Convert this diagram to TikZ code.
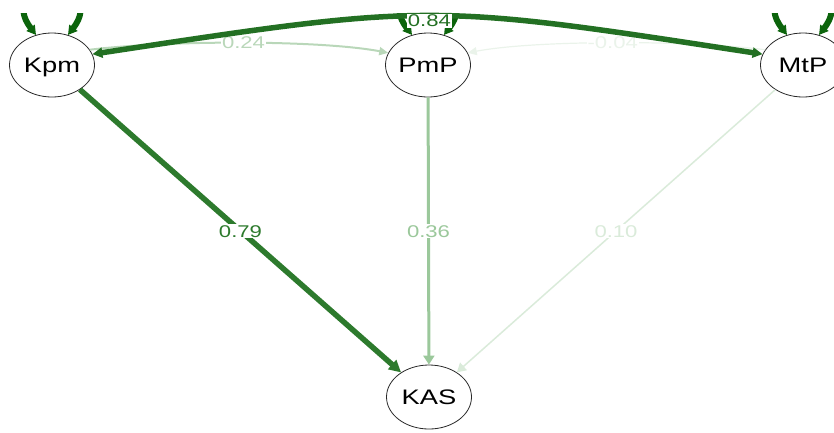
\documentclass[tikz,border=0pt]{standalone}
\usepackage{fontspec}
\usepackage{graphicx}
\setmainfont{Liberation Sans}
\usetikzlibrary{arrows.meta,shapes.geometric}

\definecolor{nodeline}{RGB}{40,40,40}
\definecolor{varloop}{RGB}{12,100,12}
\definecolor{c84}{RGB}{35,112,35}
\definecolor{c79}{RGB}{45,122,45}
\definecolor{c36}{RGB}{155,200,155}
\definecolor{c24}{RGB}{185,215,185}
\definecolor{c10}{RGB}{218,235,218}
\definecolor{c04}{RGB}{234,243,234}

\newcommand{\stretchtxt}[1]{\scalebox{1.3}[1]{#1}}

\begin{document}
\begin{tikzpicture}[x=1pt,y=-1pt,
  var/.style={ellipse, draw=nodeline, line width=0.8pt, fill=white,
    minimum width=85pt, minimum height=64pt, inner sep=0pt,
    text height=15pt, text depth=0pt, font=\fontsize{21}{21}\selectfont},
  lbl/.style={fill=white, inner sep=1pt, text height=12pt, text depth=0pt,
    font=\fontsize{17}{17}\selectfont}
]
\useasboundingbox (0,0) rectangle (834,432);

% observed variables
\node[var] (Kpm) at (52,65) {\stretchtxt{Kpm}};
\node[var] (PmP) at (428,65) {\stretchtxt{PmP}};
\node[var] (MtP) at (803,65) {\stretchtxt{MtP}};
\node[var] (KAS) at (429,397) {\stretchtxt{KAS}};

% variances (loops, cut off by the plot region)
\begin{scope}
  \clip (0,13) rectangle (834,432);
  \foreach \v in {Kpm,PmP,MtP}{
    \draw[varloop, line width=6pt,
      {Triangle[length=9pt,width=10pt]}-{Triangle[length=9pt,width=10pt]}]
      (\v.118) .. controls +(-42,-55) and +(42,-55) .. (\v.62);
  }
\end{scope}

% covariances among the predictors
\draw[c04, line width=1.2pt, {Triangle[length=9pt,width=8pt]}-]
  (PmP.17) .. controls (535,40) and (688,40) .. (MtP.158)
  node[pos=.5, lbl, text=c04] {\stretchtxt{-0.04}};
\draw[c24, line width=2pt, -{Triangle[length=9pt,width=8pt]}]
  (Kpm.22) .. controls (170,40) and (320,40) .. (PmP.163)
  node[pos=.5, lbl, text=c24] {\stretchtxt{0.24}};
\draw[c84, line width=5.5pt, {Triangle[length=10pt,width=10pt]}-{Triangle[length=10pt,width=10pt]}]
  (Kpm.15) .. controls (430,3) and (430,3) .. (MtP.165)
  node[pos=.5, yshift=-5pt, lbl, text=c84] {\stretchtxt{0.84}};

% regressions on KAS
\draw[c10, line width=1.5pt, -{Triangle[length=9pt,width=10pt]}]
  (MtP) -- node[lbl, text=c10] {\stretchtxt{0.10}} (KAS);
\draw[c36, line width=3pt, -{Triangle[length=9pt,width=11pt]}]
  (PmP) -- node[lbl, text=c36] {\stretchtxt{0.36}} (KAS);
\draw[c79, line width=5.5pt, -{Triangle[length=12pt,width=12pt]}]
  (Kpm) -- node[lbl, text=c79] {\stretchtxt{0.79}} (KAS);
\end{tikzpicture}
\end{document}
